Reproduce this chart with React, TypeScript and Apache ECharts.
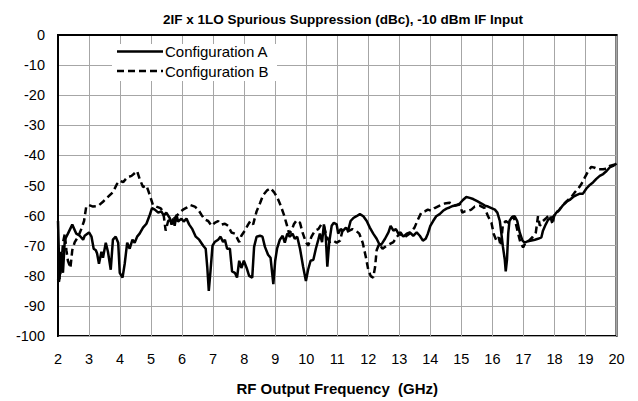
import React, { useEffect, useRef } from "react";
import * as echarts from "echarts";

const titleText = "2IF x 1LO Spurious Suppression (dBc), -10 dBm IF Input";
const xName = "RF Output Frequency  (GHz)";
const seriesNames = ["Configuration A", "Configuration B"];

const freqA = [
  2.0, 2.05, 2.11, 2.16, 2.22, 2.32, 2.46, 2.59, 2.7, 2.81, 2.86, 3.0, 3.08, 3.15, 3.22, 3.26, 3.32, 3.4, 3.45, 3.54,
  3.61, 3.7, 3.77, 3.86, 3.94, 3.99, 4.08, 4.15, 4.23, 4.31, 4.4, 4.47, 4.55, 4.63, 4.74, 4.85, 4.96, 5.03, 5.12, 5.23,
  5.33, 5.41, 5.49, 5.6, 5.66, 5.71, 5.76, 5.82, 5.87, 5.98, 6.05, 6.14, 6.23, 6.33, 6.44, 6.55, 6.68, 6.76, 6.81, 6.86,
  6.91, 6.98, 7.05, 7.16, 7.24, 7.32, 7.38, 7.45, 7.54, 7.61, 7.7, 7.77, 7.84, 7.91, 7.99, 8.08, 8.16, 8.26, 8.32, 8.4,
  8.51, 8.59, 8.67, 8.77, 8.85, 8.94, 9.0, 9.06, 9.15, 9.24, 9.31, 9.39, 9.47, 9.56, 9.63, 9.71, 9.8, 9.9, 9.99, 10.06,
  10.14, 10.23, 10.31, 10.39, 10.44, 10.51, 10.57, 10.63, 10.68, 10.74, 10.82, 10.89, 10.98, 11.03, 11.11, 11.19, 11.28,
  11.35, 11.43, 11.52, 11.62, 11.73, 11.84, 11.95, 12.05, 12.16, 12.27, 12.38, 12.46, 12.54, 12.65, 12.72, 12.81, 12.89,
  12.97, 13.04, 13.13, 13.24, 13.34, 13.45, 13.56, 13.66, 13.76, 13.85, 13.92, 14.0, 14.09, 14.19, 14.3, 14.41, 14.52,
  14.62, 14.73, 14.84, 14.95, 15.05, 15.16, 15.27, 15.38, 15.51, 15.65, 15.76, 15.86, 15.97, 16.08, 16.16, 16.24, 16.29,
  16.34, 16.4, 16.43, 16.47, 16.51, 16.55, 16.63, 16.72, 16.8, 16.88, 16.97, 17.04, 17.15, 17.26, 17.37, 17.47, 17.58,
  17.63, 17.72, 17.8, 17.9, 17.98, 18.06, 18.17, 18.28, 18.39, 18.49, 18.6, 18.71, 18.82, 18.92, 19.03, 19.14, 19.25,
  19.35, 19.46, 19.57, 19.68, 19.78, 19.89, 20.0,
];
const dbA = [
  -61.8, -81, -72, -79, -68, -66, -63, -66, -66.7, -68, -66.7, -65.6, -67, -71, -71.5, -72.6, -76, -72, -74, -69,
  -72, -78, -68, -67, -69, -79, -80.6, -76, -69, -71, -68, -69, -67, -66, -64, -62.7, -59.7, -57.5, -58, -59,
  -58.6, -60, -59, -60.8, -63, -61, -63.4, -59.7, -62, -61, -62, -61, -63, -64.5, -67, -68, -70, -71, -77, -85,
  -79, -70, -68.8, -68, -67, -68.8, -68, -71, -71, -78.5, -79, -80.6, -75, -77.4, -75, -77.4, -80, -80.6, -70.4, -67,
  -66.7, -67, -70.4, -73, -74, -82.8, -75, -71, -68, -66.7, -69, -66, -67, -66, -67.7, -67, -71, -77, -81.7, -78,
  -75, -74.7, -71, -68, -66, -68.8, -62.9, -67, -77, -69, -63.4, -62.4, -62.9, -66, -64.5, -65, -64,
  -65, -61.8, -60.8, -60.2, -59.5, -60.2, -61.8, -64, -66, -67.7, -70, -69, -67.7, -65.6, -63.4, -65, -64.5,
  -66, -65.6, -67, -66, -65.6, -66.7, -65.6, -66.7, -68.3, -67.7, -66, -63.4, -61.8, -60.2, -59.5, -58.4, -57.7,
  -57.3, -56.8, -56.5, -56, -54.8, -53.8, -54.1, -54.5, -55.2, -56, -56.7, -57, -57.5, -58, -59, -61.8, -66,
  -70.4, -74.7, -78.5, -74.7, -66, -61.8, -60.5, -60.2, -61.8, -65.6, -68.3, -69, -68.5, -68.3, -68, -67.7, -67.2,
  -65, -62.9, -61.3, -60.8, -60.2, -59, -58, -56.5, -55.4, -54.8, -53.8, -53.2, -52.7, -52.7, -51, -49.8, -48.9,
  -47.8, -46.8, -46.2, -45.2, -44, -43.5, -42.7,
];

const freqB = [
  2.0, 2.03, 2.11, 2.16, 2.22, 2.27, 2.32, 2.4, 2.46, 2.54, 2.65, 2.75, 2.84, 2.91, 3.0, 3.13, 3.29, 3.45, 3.61, 3.77,
  3.9, 3.99, 4.1, 4.23, 4.37, 4.44, 4.55, 4.63, 4.74, 4.85, 4.96, 5.06, 5.17, 5.3, 5.39, 5.47, 5.55, 5.66, 5.76, 5.92,
  6.03, 6.16, 6.27, 6.41, 6.52, 6.62, 6.73, 6.84, 6.95, 7.05, 7.16, 7.27, 7.38, 7.48, 7.59, 7.7, 7.84, 7.91, 8.02, 8.13,
  8.2, 8.29, 8.4, 8.51, 8.61, 8.74, 8.85, 8.96, 9.06, 9.17, 9.28, 9.37, 9.45, 9.53, 9.6, 9.69, 9.8, 9.88, 9.99, 10.06,
  10.17, 10.28, 10.39, 10.49, 10.57, 10.66, 10.76, 10.87, 10.98, 11.09, 11.17, 11.28, 11.39, 11.49, 11.6, 11.71, 11.82,
  11.92, 12.0, 12.08, 12.16, 12.22, 12.27, 12.35, 12.46, 12.59, 12.7, 12.81, 12.91, 13.01, 13.17, 13.33, 13.49, 13.6,
  13.71, 13.82, 13.92, 14.03, 14.14, 14.3, 14.46, 14.62, 14.78, 14.95, 15.03, 15.11, 15.22, 15.32, 15.43, 15.59, 15.75,
  15.86, 15.97, 16.04, 16.13, 16.2, 16.27, 16.34, 16.43, 16.51, 16.58, 16.67, 16.75, 16.83, 16.9, 16.99, 17.08, 17.18,
  17.29, 17.4, 17.47, 17.53, 17.63, 17.74, 17.85, 17.94, 18.01, 18.12, 18.23, 18.33, 18.44, 18.55, 18.66, 18.77, 18.87,
  18.98, 19.09, 19.19, 19.3, 19.41, 19.57, 19.68, 19.78, 19.95,
];
const dbB = [
  -81, -82, -77, -69, -66, -71.5, -75, -77.4, -71.5, -68.8, -67, -64.5, -61.8, -57, -56.5, -57, -56.8, -55.4, -53.8, -52.2,
  -49.5, -48.4, -48.9, -47.3, -46.8, -46.2, -45.2, -47.8, -50.5, -50, -53.2, -56.5, -57, -57.5, -58.6, -65, -61.8, -61.3, -60.8, -59,
  -58, -57.3, -56.5, -57, -58, -59.7, -61.3, -61.8, -63.4, -62.4, -61.8, -63, -62.7, -63.4, -65.6, -66, -68.8, -66.7, -65, -62.9,
  -61.8, -62.9, -58.6, -55.9, -53.2, -51.6, -50.9, -52.2, -53.8, -56.5, -59.7, -62.9, -66, -65, -62.9, -61.6, -62.4, -65.6, -68.8, -70,
  -67, -65, -64.5, -62.9, -63.4, -67, -68.8, -68.3, -69, -68.3, -65, -65.6, -65, -64.5, -65, -66, -69,
  -73.7, -78, -80.1, -80.6, -77, -71.5, -69.4, -71, -70, -69.4, -68.8, -67.2, -66, -67.2, -66, -64, -61.3,
  -59, -58.6, -58, -58.4, -57.5, -56.7, -56, -55.7, -56.7, -56.3, -59, -58.6, -58.4, -58, -57, -56.7, -57.5,
  -60.2, -62.4, -66, -68.3, -67.2, -70, -62.9, -61.8, -62.4, -61.3, -60.2, -62.4, -66, -68.8, -70.6, -68.8, -68.3,
  -67.2, -65.6, -60.2, -63.4, -61.8, -60.8, -59.7, -62.9, -59, -58.6, -57, -55.9, -54.8, -53.8, -52.2, -51, -49.5,
  -47.3, -45.2, -43.8, -44.1, -44.6, -44.6, -44.4, -43.5, -43,
];

const zip = (xs: number[], ys: number[]) => xs.map((x, i) => [x, ys[i]]);

const FONT = "Liberation Sans";
const DASH = [7, 4];

export default function App() {
  const ref = useRef<HTMLDivElement>(null);
  useEffect(() => {
    document.body.style.margin = "0";
    const chart = echarts.init(ref.current!, undefined, { renderer: "svg" });
    chart.setOption({
      animation: false,
      backgroundColor: "#fff",
      title: {
        text: titleText,
        left: 338,
        textAlign: "center",
        top: 7,
        textStyle: { fontFamily: FONT, fontSize: 13.5, fontWeight: "bold", color: "#000" },
      },
      grid: {
        left: 58,
        right: 21.5,
        top: 35,
        bottom: 56,
        show: true,
        borderColor: "#000",
        borderWidth: 2,
        containLabel: false,
      },
      xAxis: {
        type: "value",
        min: 2,
        max: 20,
        interval: 1,
        name: xName,
        nameLocation: "middle",
        nameGap: 45,
        nameTextStyle: { fontFamily: FONT, fontSize: 15, fontWeight: "bold", color: "#000" },
        axisLine: { show: true, lineStyle: { color: "#000", width: 2 } },
        axisTick: { show: false },
        axisLabel: { fontFamily: FONT, fontSize: 14.5, color: "#000", margin: 15 },
        splitLine: { show: true, lineStyle: { color: "#a6a6a6", width: 1 } },
      },
      yAxis: {
        type: "value",
        min: -100,
        max: 0,
        interval: 10,
        axisLine: { show: true, lineStyle: { color: "#000", width: 2 } },
        axisTick: { show: false },
        axisLabel: { fontFamily: FONT, fontSize: 14.5, color: "#000", margin: 13 },
        splitLine: { show: true, lineStyle: { color: "#a6a6a6", width: 1 } },
      },
      graphic: [
        {
          type: "rect",
          z: 100,
          shape: { x: 112, y: 44, width: 165, height: 37 },
          style: { fill: "#fff" },
        },
        {
          type: "line",
          z: 101,
          shape: { x1: 117, y1: 51.5, x2: 163, y2: 51.5 },
          style: { stroke: "#000", lineWidth: 2.5 },
        },
        {
          type: "line",
          z: 101,
          shape: { x1: 117, y1: 71, x2: 163, y2: 71 },
          style: { stroke: "#000", lineWidth: 2.5, lineDash: DASH },
        },
        {
          type: "text",
          z: 101,
          x: 165,
          y: 51.5,
          style: { text: seriesNames[0], font: `15px "${FONT}"`, fill: "#000", verticalAlign: "middle" },
        },
        {
          type: "text",
          z: 101,
          x: 165,
          y: 71,
          style: { text: seriesNames[1], font: `15px "${FONT}"`, fill: "#000", verticalAlign: "middle" },
        },
      ],
      series: [
        {
          name: seriesNames[0],
          type: "line",
          data: zip(freqA, dbA),
          showSymbol: false,
          symbol: "none",
          lineStyle: { color: "#000", width: 2.5, type: "solid" },
          z: 3,
        },
        {
          name: seriesNames[1],
          type: "line",
          data: zip(freqB, dbB),
          showSymbol: false,
          symbol: "none",
          lineStyle: { color: "#000", width: 2.5, type: DASH },
          z: 2,
        },
      ],
    });
    return () => chart.dispose();
  }, []);
  return <div ref={ref} style={{ width: 638, height: 401 }} />;
}
